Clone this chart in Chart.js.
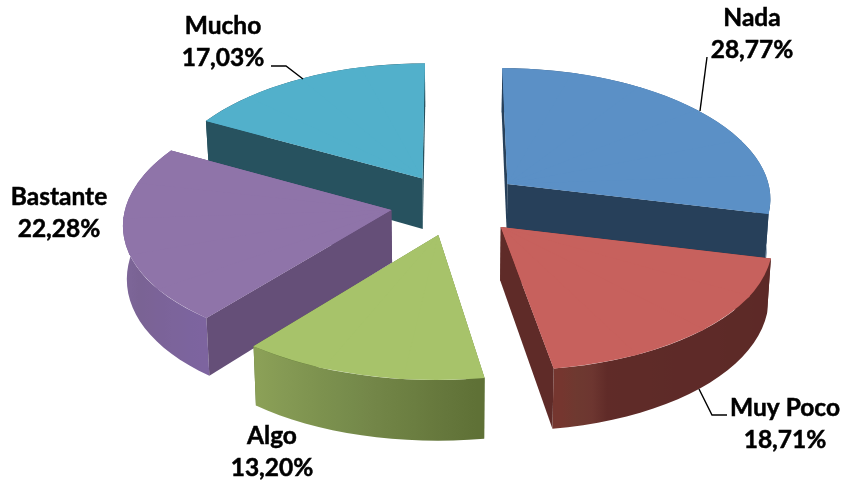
<!DOCTYPE html>
<html><head><meta charset="utf-8">
<style>html,body{margin:0;padding:0;background:#fff}#w{width:842px;height:482px}</style>
<script src="https://cdn.jsdelivr.net/npm/chart.js@4"></script>
</head><body><div id="w"><canvas id="c" width="842" height="482"></canvas></div>
<script>
const categories = ['Nada','Muy Poco','Algo','Bastante','Mucho'];
const values = [28.77,18.71,13.20,22.28,17.03];
const valueLabels = ['28,77%','18,71%','13,20%','22,28%','17,03%'];
const topColors = ['#5B90C6','#C7615D','#A7C36A','#8F74A9','#52B0CB'];
const sideColors = ['#27405A','#5F2B28','#5D7436','#654F78','#27525F'];
const wallStops = [
  [[0,'#3E6690'],[1,'#34587C']],
  [[0,'#5C2927'],[0.84,'#5F2B28'],[0.86,'#6D3330'],[0.92,'#6C3A30'],[1,'#78352F']],
  [[0,'#5E6F35'],[0.5,'#75894A'],[1,'#8CA258']],
  [[0,'#7D64A0'],[0.3,'#7A6394'],[0.5,'#7F689A'],[1,'#80699B']],
  [[0,'#3A8197'],[1,'#3A8197']]
];
const explodeU = [0.22,0.188,-0.043,-0.22,-0.106];
const explodeV = [-0.15,0.185,0.245,0.055,-0.195];
const drawOrder = [4,0,3,1,2];
const labelPos = [[752,18],[785,408],[272,436],[59,197],[223,26]];
const leaders = [
  [[707,57],[700,111]],
  [[699,389],[712,415],[727,415]],
  [],[],
  [[271,66],[286,66],[303,79]]
];
const view = {cx:450, cy:203, rx:265, ry:128, p:0.1, q:0.08};
const project = (u,v)=>({x:view.cx+view.rx*u/(1-view.p*v), y:view.cy+view.ry*v/(1-view.q*v)});
function hexMix(a,b,t){
  const pa=[1,3,5].map(i=>parseInt(a.substr(i,2),16)), pb=[1,3,5].map(i=>parseInt(b.substr(i,2),16));
  return 'rgb('+pa.map((c,i)=>Math.round(c+(pb[i]-c)*t)).join(',')+')';
}
function stopColor(st,t){
  for(let i=1;i<st.length;i++){ if(t<=st[i][0]){ return hexMix(st[i-1][1],st[i][1],(t-st[i-1][0])/(st[i][0]-st[i-1][0]||1)); } }
  return st[st.length-1][1];
}
const pie3d = {
  id:'pie3d',
  beforeDatasetsDraw(chart){
    const ctx=chart.ctx, arcs=chart.getDatasetMeta(0).data;
    for(const i of drawOrder){
      const arc=arcs[i], R=arc.outerRadius, a1=arc.startAngle, a2=arc.endAngle;
      const eu=explodeU[i], ev=explodeV[i];
      const A=project(eu,ev);
      const rim=a=>project(eu+Math.cos(a),ev+Math.sin(a));
      const lower=(pt,v)=>({x:view.cx+(pt.x-view.cx)*0.988, y:pt.y+52+7*v});
      const rimLow=a=>lower(rim(a),ev+Math.sin(a));
      const apexLow=lower(A,ev);
      const mid=rim((a1+a2)/2);
      const radial=a=>{
        const t=rim(a), b=rimLow(a);
        ctx.fillStyle=sideColors[i];
        ctx.beginPath();ctx.moveTo(A.x,A.y);ctx.lineTo(t.x,t.y);ctx.lineTo(b.x,b.y);ctx.lineTo(apexLow.x,apexLow.y);ctx.closePath();ctx.fill();
      };
      const frontFacing=a=>{
        const t=rim(a), ex=t.x-A.x, ey=t.y-A.y;
        return ex*(ex*(mid.y-A.y)-ey*(mid.x-A.x))<0;
      };
      for(const a of [a1,a2]) if(!frontFacing(a)) radial(a);
      // outer wall: one polygon, shaded across its width
      const bands=Math.max(6,Math.round((a2-a1)/(Math.PI/60)));
      const tops=[],lows=[],shade=[];
      for(let k=0;k<=bands;k++){
        const b=a1+(a2-a1)*k/bands;
        tops.push(rim(b));lows.push(rimLow(b));
        if(k<bands){
          const bm=a1+(a2-a1)*(k+0.5)/bands;
          if(Math.sin(bm)>-0.05) shade.push({x:rim(bm).x,c:stopColor(wallStops[i],(k+0.5)/bands)});
        }
      }
      shade.sort((s,t)=>s.x-t.x);
      let fill=sideColors[i];
      if(shade.length>1){
        const x0=shade[0].x,x1=shade[shade.length-1].x;
        fill=ctx.createLinearGradient(x0,0,x1,0);
        shade.forEach(s=>fill.addColorStop((s.x-x0)/(x1-x0),s.c));
      } else if(shade.length===1){ fill=shade[0].c; }
      ctx.fillStyle=fill;
      ctx.beginPath();
      tops.forEach((p,j)=>j?ctx.lineTo(p.x,p.y):ctx.moveTo(p.x,p.y));
      lows.slice().reverse().forEach(p=>ctx.lineTo(p.x,p.y));
      ctx.closePath();ctx.fill();
      for(const a of [a1,a2]) if(frontFacing(a)) radial(a);
      // top face: the library's arc element, drawn wedge by wedge through the projection
      const pieces=Math.max(2,Math.ceil((a2-a1)/(Math.PI/9)));
      const lap=0.006;
      // an underlay under the wedges keeps their shared edges from showing
      ctx.fillStyle=topColors[i];
      ctx.beginPath();ctx.moveTo(A.x,A.y);
      for(let k=0;k<=pieces;k++){const S=rim(a1+(a2-a1)*k/pieces);ctx.lineTo(S.x,S.y);}
      ctx.closePath();ctx.fill();
      for(let k=0;k<pieces;k++){
        const b1=a1+(a2-a1)*k/pieces, b2=a1+(a2-a1)*(k+1)/pieces;
        const S1=rim(b1),S2=rim(b2);
        const px1=R*Math.cos(b1),py1=R*Math.sin(b1),px2=R*Math.cos(b2),py2=R*Math.sin(b2);
        const det=px1*py2-px2*py1;
        const sx1=S1.x-A.x,sy1=S1.y-A.y,sx2=S2.x-A.x,sy2=S2.y-A.y;
        const m00=(sx1*py2-sx2*py1)/det, m01=(sx2*px1-sx1*px2)/det;
        const m10=(sy1*py2-sy2*py1)/det, m11=(sy2*px1-sy1*px2)/det;
        ctx.save();
        ctx.transform(m00,m10,m01,m11,A.x-m00*arc.x-m01*arc.y,A.y-m10*arc.x-m11*arc.y);
        const c1=k?b1-lap:b1, c2=k<pieces-1?b2+lap:b2;
        ctx.beginPath();
        ctx.moveTo(arc.x,arc.y);
        ctx.lineTo(arc.x+1.3*R*Math.cos(c1),arc.y+1.3*R*Math.sin(c1));
        ctx.lineTo(arc.x+1.3*R*Math.cos(c2),arc.y+1.3*R*Math.sin(c2));
        ctx.closePath();
        ctx.clip();
        arc.draw(ctx);
        ctx.restore();
      }
    }
    // labels
    ctx.save();
    ctx.strokeStyle='#000';ctx.lineWidth=1.4;
    leaders.forEach(l=>{ if(!l.length)return; ctx.beginPath(); l.forEach((p,j)=>j?ctx.lineTo(p[0],p[1]):ctx.moveTo(p[0],p[1])); ctx.stroke(); });
    ctx.fillStyle='#000';ctx.textAlign='center';ctx.textBaseline='middle';
    ctx.font='bold 24.5px Lato';ctx.lineWidth=0.5;
    categories.forEach((c,i)=>{
      const x=labelPos[i][0], y=labelPos[i][1];
      ctx.fillText(c,x,y);ctx.strokeText(c,x,y);
      ctx.fillText(valueLabels[i],x,y+32);ctx.strokeText(valueLabels[i],x,y+32);
    });
    ctx.restore();
    return false;
  }
};
new Chart(document.getElementById('c'),{
  type:'pie',
  data:{labels:categories,datasets:[{data:values,backgroundColor:topColors,borderWidth:0}]},
  options:{responsive:false,animation:false,layout:{padding:0},events:[],
    plugins:{legend:{display:false},tooltip:{enabled:false}}},
  plugins:[pie3d]
});
</script></body></html>
